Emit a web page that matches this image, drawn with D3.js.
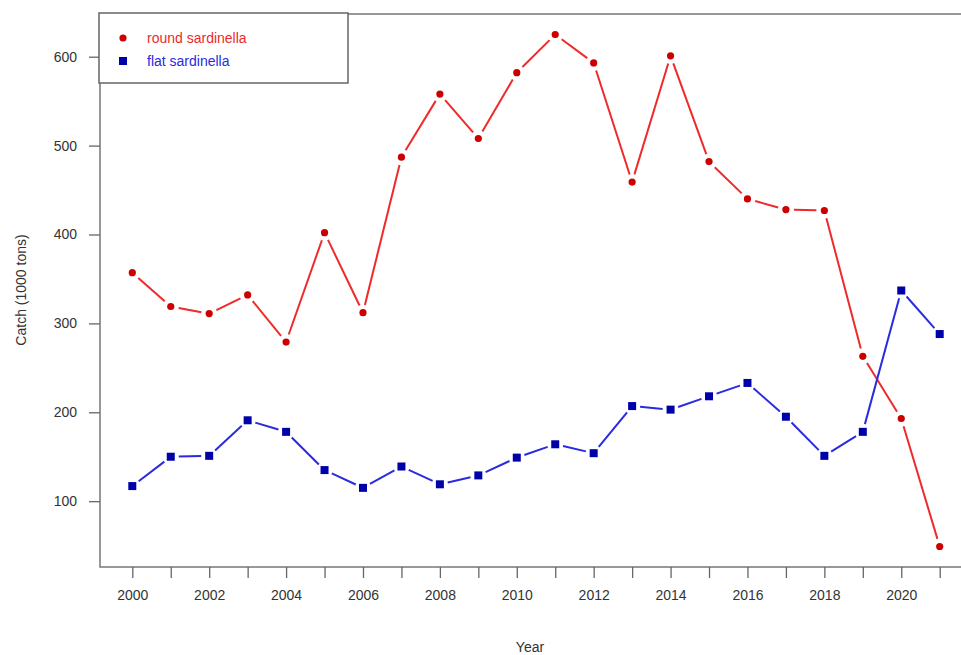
<!DOCTYPE html>
<html>
<head>
<meta charset="utf-8">
<script src="https://cdn.jsdelivr.net/npm/d3@7"></script>
<style>
  body { margin: 0; background: #fff; }
  svg { display: block; font-family: "Liberation Sans", Arial, sans-serif; }
</style>
</head>
<body>
<svg id="svg" width="961" height="655"></svg>
<script>
const years = d3.range(2000, 2022);
const roundSardinella = [357, 319, 311, 332, 279, 402, 312, 487, 558, 508, 582, 625, 593, 459, 601, 482, 440, 428, 427, 263, 193, 49];
const flatSardinella = [117, 150, 151, 191, 178, 135, 115, 139, 119, 129, 149, 164, 154, 207, 203, 218, 233, 195, 151, 178, 337, 288];
const yTicks = [100, 200, 300, 400, 500, 600];
const seriesNames = ["round sardinella", "flat sardinella"];

function chart() {
  const left = 100, right = 972, top = 14, bottom = 567;

  // R style: range padded by 4% on each side
  const xPad = (d3.max(years) - d3.min(years)) * 0.04;
  const xScale = d3.scaleLinear()
    .domain([d3.min(years) - xPad, d3.max(years) + xPad])
    .range([left, right]);

  const allVals = roundSardinella.concat(flatSardinella);
  const yPad = (d3.max(allVals) - d3.min(allVals)) * 0.04;
  const yScale = d3.scaleLinear()
    .domain([d3.min(allVals) - yPad, d3.max(allVals) + yPad])
    .range([bottom, top]);

  const svg = d3.select("#svg");

  // plot box
  svg.append("rect")
    .attr("x", left).attr("y", top)
    .attr("width", right - left).attr("height", bottom - top)
    .attr("fill", "none")
    .attr("stroke", "#777")
    .attr("stroke-width", 1.5);

  // x axis
  const xAxis = d3.axisBottom(xScale)
    .tickValues(years)
    .tickSize(11)
    .tickPadding(12)
    .tickFormat(d => d % 2 === 0 ? d : "");
  const gx = svg.append("g")
    .attr("transform", `translate(0,${bottom})`)
    .call(xAxis);
  gx.select(".domain").remove();
  gx.selectAll(".tick line").attr("stroke", "#666").attr("stroke-width", 1.3);
  gx.selectAll(".tick text")
    .attr("fill", "#333")
    .attr("font-size", 14)
    .attr("font-family", "Liberation Sans, Arial, sans-serif");

  // y axis
  const yAxis = d3.axisLeft(yScale)
    .tickValues(yTicks)
    .tickSize(11)
    .tickPadding(12);
  const gy = svg.append("g")
    .attr("transform", `translate(${left},0)`)
    .call(yAxis);
  gy.select(".domain").remove();
  gy.selectAll(".tick line").attr("stroke", "#666").attr("stroke-width", 1.3);
  gy.selectAll(".tick text")
    .attr("fill", "#333")
    .attr("font-size", 14)
    .attr("font-family", "Liberation Sans, Arial, sans-serif");

  // axis titles
  svg.append("text")
    .attr("x", 530).attr("y", 652)
    .attr("text-anchor", "middle")
    .attr("font-size", 14)
    .attr("fill", "#333")
    .text("Year");
  svg.append("text")
    .attr("transform", "translate(26,290) rotate(-90)")
    .attr("text-anchor", "middle")
    .attr("font-size", 14)
    .attr("fill", "#333")
    .text("Catch (1000 tons)");

  // lines drawn like R type="b": segments with gaps around points
  const gap = 8;
  function drawSeries(values, lineColor, pointColor, shape) {
    const pts = years.map((y, i) => [xScale(y), yScale(values[i])]);
    const segs = d3.pairs(pts).map(([a, b]) => {
      const dx = b[0] - a[0], dy = b[1] - a[1];
      const len = Math.hypot(dx, dy);
      const ux = dx / len, uy = dy / len;
      return [a[0] + ux * gap, a[1] + uy * gap, b[0] - ux * gap, b[1] - uy * gap, len];
    }).filter(s => s[4] > 2 * gap);

    const g = svg.append("g");
    g.selectAll("line")
      .data(segs)
      .join("line")
      .attr("x1", d => d[0]).attr("y1", d => d[1])
      .attr("x2", d => d[2]).attr("y2", d => d[3])
      .attr("stroke", lineColor)
      .attr("stroke-width", 2);

    if (shape === "circle") {
      g.selectAll("circle")
        .data(pts)
        .join("circle")
        .attr("cx", d => d[0]).attr("cy", d => d[1])
        .attr("r", 3.6)
        .attr("fill", pointColor);
    } else {
      g.selectAll("rect")
        .data(pts)
        .join("rect")
        .attr("x", d => d[0] - 4).attr("y", d => d[1] - 4)
        .attr("width", 8).attr("height", 8)
        .attr("fill", pointColor);
    }
  }

  drawSeries(roundSardinella, "#ee2a2a", "#cc0000", "circle");
  drawSeries(flatSardinella, "#2a2ae0", "#0000aa", "square");

  // legend
  const legend = svg.append("g");
  legend.append("rect")
    .attr("x", left - 1).attr("y", top - 1)
    .attr("width", 249).attr("height", 70)
    .attr("fill", "#fff")
    .attr("stroke", "#666")
    .attr("stroke-width", 1.5);

  const legendItems = [
    { name: seriesNames[0], color: "#ee2a2a", mark: "#cc0000", shape: "circle" },
    { name: seriesNames[1], color: "#2a2ae0", mark: "#0000aa", shape: "square" }
  ];
  legendItems.forEach((d, i) => {
    const cy = 38 + i * 23;
    if (d.shape === "circle") {
      legend.append("circle").attr("cx", 123).attr("cy", cy).attr("r", 3.6).attr("fill", d.mark);
    } else {
      legend.append("rect").attr("x", 119).attr("y", cy - 4).attr("width", 8).attr("height", 8).attr("fill", d.mark);
    }
    legend.append("text")
      .attr("x", 147).attr("y", cy + 5)
      .attr("font-size", 14)
      .attr("fill", d.color)
      .text(d.name);
  });
}

chart();
</script>
</body>
</html>
